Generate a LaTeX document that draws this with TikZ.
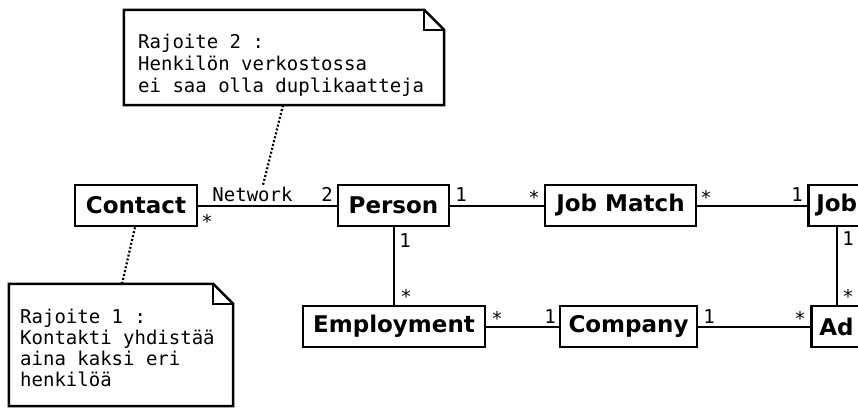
\documentclass[tikz,border=0pt]{standalone}
\usepackage{fontspec}
\setmainfont{DejaVu Sans}
\newfontfamily\monofont{DejaVu Sans Mono}
\begin{document}
\begin{tikzpicture}[x=1pt,y=-1pt,
  cls/.style={draw, line width=2.5pt, fill=white, inner sep=0pt,
    minimum height=41pt, font=\fontsize{23}{27}\selectfont\bfseries},
  assoc/.style={line width=2pt},
  mult/.style={inner sep=0pt, anchor=base, font=\monofont\fontsize{19}{22}\selectfont},
  notebox/.style={draw=none, inner sep=0pt},
  noteline/.style={line width=2.5pt, line join=miter},
  notetext/.style={inner sep=0pt, anchor=north west, align=left,
    font=\monofont\fontsize{19}{22}\selectfont},
  anchorline/.style={line width=2.2pt, dash pattern=on 2pt off 2pt}
]
\useasboundingbox (0,0) rectangle (858,408);
\clip (0,0) rectangle (858,408);

% classes
\node[cls, minimum width=122pt] (contact) at (136,205.5) {Contact};
\node[cls, minimum width=111pt] (person) at (393.5,205.5) {Person};
\node[cls, minimum width=151pt] (jobmatch) at (620.5,205.5) {Job Match};
\node[cls, anchor=west, text width=84pt, inner xsep=8pt, align=left] (job) at (807,205.5) {Job};
\node[cls, minimum width=182pt] (employment) at (394,326.5) {Employment};
\node[cls, minimum width=137pt] (company) at (628.5,326.5) {Company};
\node[cls, anchor=west, text width=84pt, inner xsep=8pt, align=left] (ad) at (810,326.5) {Ad};
\coordinate (jx) at (837,0);

% associations
\draw[assoc] (contact.east) -- (person.west);
\draw[assoc] (person.east) -- (jobmatch.west);
\draw[assoc] (jobmatch.east) -- (job.west);
\draw[assoc] (person.south) -- (person.south |- employment.north);
\draw[assoc] (employment.east) -- (company.west);
\draw[assoc] (company.east) -- (ad.west);
\draw[assoc] (job.south -| jx) -- (ad.north -| jx);

% multiplicities and role names
\node[mult] (lnet) at (252.5,201) {Network};
\node[mult] (m1) at (327,201) {2};
\node[mult] (m2) at (207,228) {*};
\node[mult] (m3) at (461,201) {1};
\node[mult] (m4) at (534,204) {*};
\node[mult] (m5) at (706,204) {*};
\node[mult] (m6) at (797,201) {1};
\node[mult] (m7) at (405,247) {1};
\node[mult] (m8) at (406,303) {*};
\node[mult] (m9) at (848,245) {1};
\node[mult] (m10) at (848,303) {*};
\node[mult] (m11) at (497,325) {*};
\node[mult] (m12) at (550,323) {1};
\node[mult] (m13) at (709,323) {1};
\node[mult] (m14) at (800,325) {*};

% constraint notes
\node[notebox, minimum width=320pt, minimum height=95pt] (note2) at (284,57.5) {};
\draw[noteline, fill=white] (note2.north west) -- ([xshift=-20pt]note2.north east)
  -- ([yshift=-20pt]note2.north east) -- (note2.south east) -- (note2.south west) -- cycle;
\draw[noteline] ([xshift=-20pt]note2.north east) -- ([xshift=-20pt,yshift=-20pt]note2.north east)
  -- ([yshift=-20pt]note2.north east);
\node[notetext] (note2text) at (138,34) {Rajoite 2 :\\Henkilön verkostossa\\ei saa olla duplikaatteja};

\node[notebox, minimum width=224pt, minimum height=122pt] (note1) at (121,345) {};
\draw[noteline, fill=white] (note1.north west) -- ([xshift=-20pt]note1.north east)
  -- ([yshift=-20pt]note1.north east) -- (note1.south east) -- (note1.south west) -- cycle;
\draw[noteline] ([xshift=-20pt]note1.north east) -- ([xshift=-20pt,yshift=-20pt]note1.north east)
  -- ([yshift=-20pt]note1.north east);
\node[notetext, font=\monofont\fontsize{19}{20.8}\selectfont] (note1text) at (20,309) {Rajoite 1 :\\Kontakti yhdistää\\aina kaksi eri\\henkilöä};

% note anchors
\coordinate (n2end) at (263,185);
\draw[anchorline] (note2.south -| 283,0) -- (n2end);
\draw[anchorline] (note1.north -| 122,0) -- (contact.south -| 135,0);
\end{tikzpicture}
\end{document}
